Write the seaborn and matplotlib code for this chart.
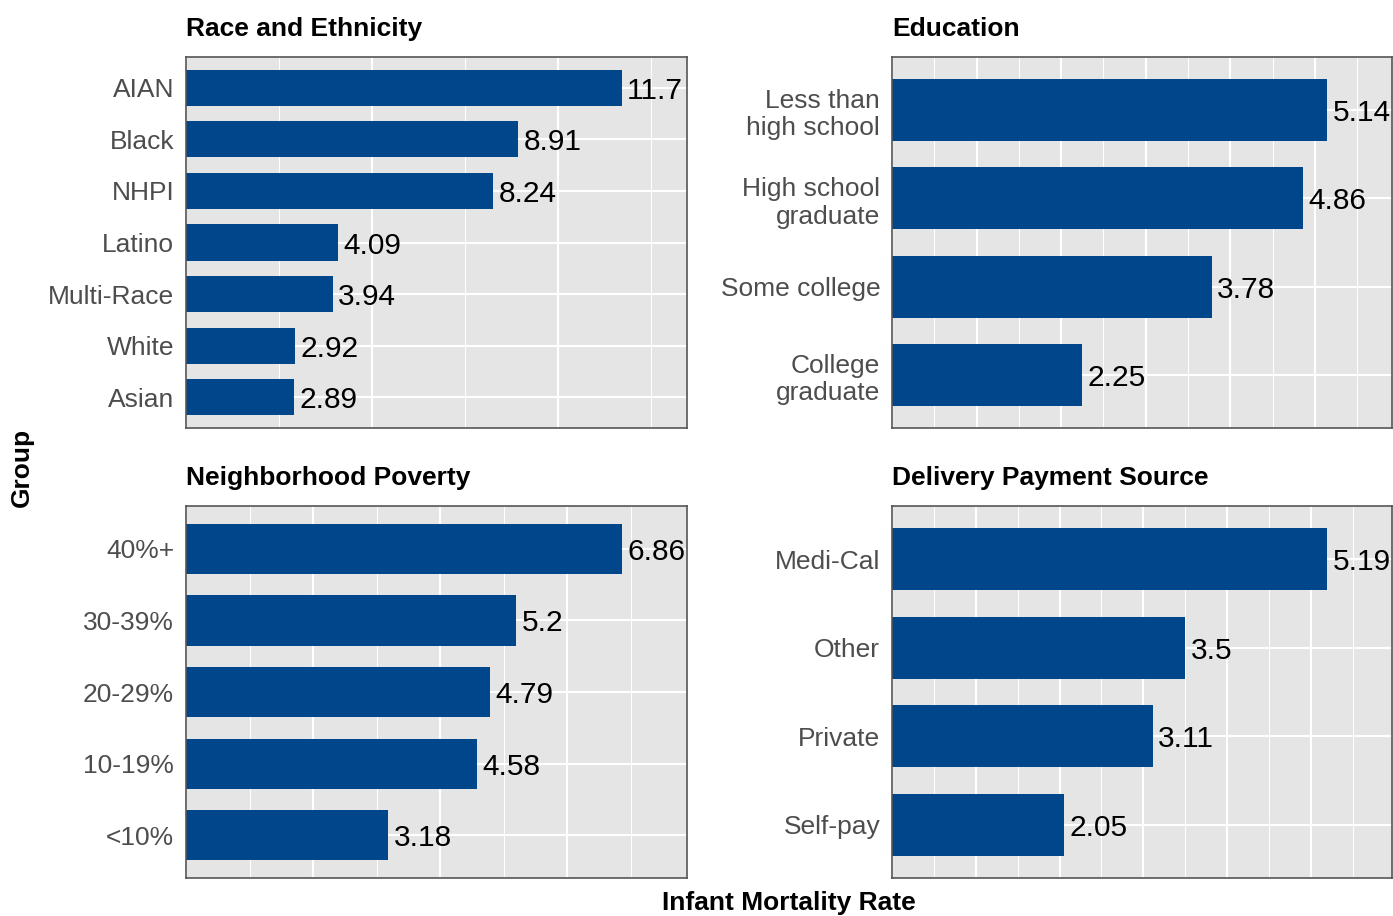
import matplotlib.pyplot as plt
import seaborn as sns
import pandas as pd
from matplotlib.ticker import MultipleLocator

# Infant mortality rate by group, top-to-bottom order as shown
race_groups = ["AIAN", "Black", "NHPI", "Latino", "Multi-Race", "White", "Asian"]
race_rates = [11.7, 8.91, 8.24, 4.09, 3.94, 2.92, 2.89]

edu_groups = ["Less than\nhigh school", "High school\ngraduate", "Some college", "College\ngraduate"]
edu_rates = [5.14, 4.86, 3.78, 2.25]

pov_groups = ["40%+", "30-39%", "20-29%", "10-19%", "<10%"]
pov_rates = [6.86, 5.2, 4.79, 4.58, 3.18]

pay_groups = ["Medi-Cal", "Other", "Private", "Self-pay"]
pay_rates = [5.19, 3.5, 3.11, 2.05]

BAR = "#00468B"
BG = "#E5E5E5"

sns.set_style("white")
plt.rcParams["font.family"] = ["Liberation Sans", "DejaVu Sans"]
plt.rcParams["text.color"] = "black"

W, H = 1393, 916
fig = plt.figure(figsize=(W / 100, H / 100), dpi=100)


def px_axes(left, top, right, bottom):
    return fig.add_axes([left / W, 1 - bottom / H, (right - left) / W, (bottom - top) / H])


panels = [
    ("Race and Ethnicity", race_groups, race_rates, 5, (186, 57, 687, 428)),
    ("Education", edu_groups, edu_rates, 1, (892, 57, 1392, 428)),
    ("Neighborhood Poverty", pov_groups, pov_rates, 2, (186, 506, 687, 878)),
    ("Delivery Payment Source", pay_groups, pay_rates, 1, (892, 506, 1392, 878)),
]

for title, groups, rates, step, box in panels:
    ax = px_axes(*box)
    df = pd.DataFrame({"group": groups, "rate": rates})
    sns.barplot(data=df, x="rate", y="group", orient="h", color=BAR,
                saturation=1, width=0.7, linewidth=0, ax=ax, zorder=3)
    n = len(groups)
    ax.set_facecolor(BG)
    ax.set_xlim(0, max(rates) * 1.15)
    ax.set_ylim(n - 1 + 0.6, -0.6)

    ax.xaxis.set_major_locator(MultipleLocator(step))
    ax.xaxis.set_minor_locator(MultipleLocator(step / 2))
    ax.grid(True, which="major", axis="both", color="white", linewidth=1.5, zorder=0)
    ax.grid(True, which="minor", axis="x", color="white", linewidth=0.75, zorder=0)
    ax.set_axisbelow(True)

    ax.set_xticklabels([])
    ax.tick_params(axis="x", which="both", length=0)
    ax.tick_params(axis="y", length=4, width=1.1, color="#333333", pad=4.5,
                   labelsize=19, labelcolor="#4D4D4D")
    for lab in ax.get_yticklabels():
        lab.set_linespacing(1.2)
        lab.set_horizontalalignment("right")
        lab.set_multialignment("right")

    for s in ax.spines.values():
        s.set_visible(True)
        s.set_color("#555555")
        s.set_linewidth(1.2)
        s.set_zorder(5)

    ax.set_xlabel("")
    ax.set_ylabel("")
    ax.set_title(title, loc="left", fontweight="bold", fontsize=19, pad=15,
                 color="black")

    for i, v in enumerate(rates):
        ax.annotate(f"{v:g}", xy=(v, i), xytext=(4, 0), textcoords="offset points",
                    ha="left", va="center_baseline", fontsize=21.5, color="black",
                    annotation_clip=False, zorder=6)

fig.text(22 / W, 1 - 467 / H, "Group", rotation=90, ha="center", va="center",
         fontsize=19, fontweight="bold", color="black")
fig.text(789 / W, 1 - 903 / H, "Infant Mortality Rate", ha="center", va="center",
         fontsize=19, fontweight="bold", color="black")

fig.savefig("out.png", dpi=100)
